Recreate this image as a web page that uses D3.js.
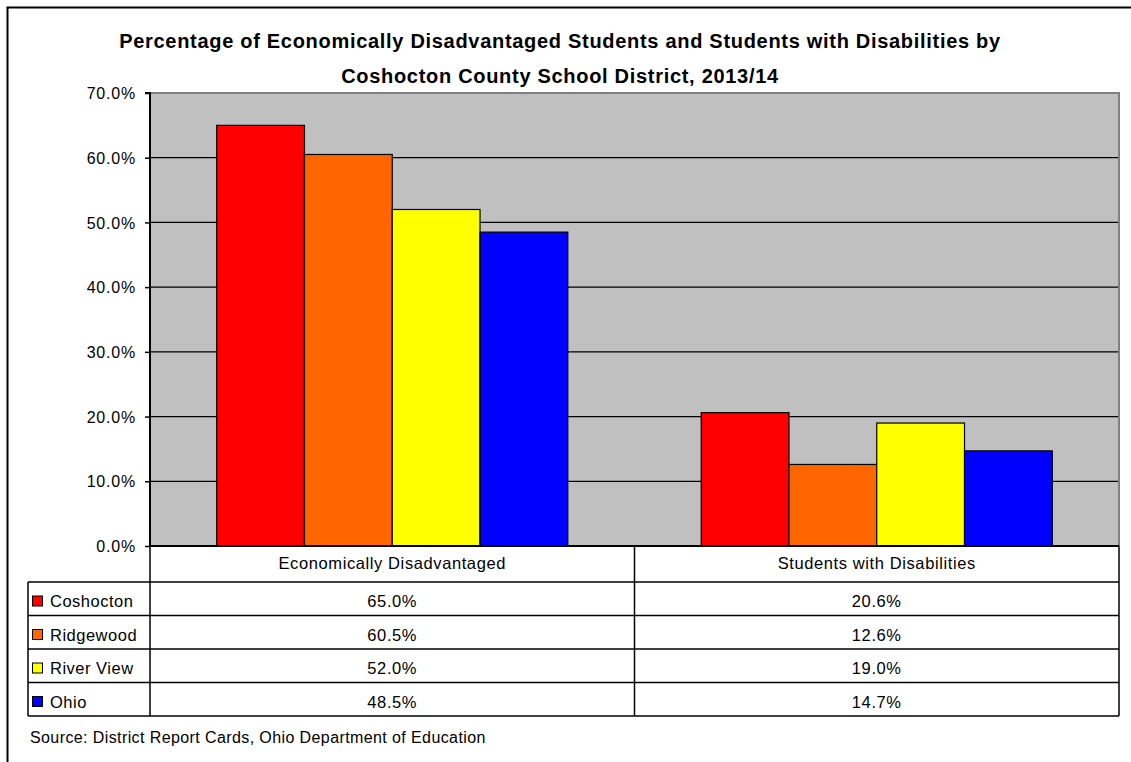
<!DOCTYPE html>
<html><head><meta charset="utf-8">
<script src="https://cdn.jsdelivr.net/npm/d3@7"></script>
<style>body{margin:0;background:#fff;} svg{display:block;font-family:Arial,"Liberation Sans",sans-serif;}</style>
</head><body>
<script>
const categories = ["Economically Disadvantaged", "Students with Disabilities"];
const seriesNames = ["Coshocton", "Ridgewood", "River View", "Ohio"];
const seriesColors = ["#FF0000", "#FF6600", "#FFFF00", "#0000FF"];
const values = {
  "Coshocton": [65.0, 20.6],
  "Ridgewood": [60.5, 12.6],
  "River View": [52.0, 19.0],
  "Ohio": [48.5, 14.7]
};
const yTicks = [0, 10, 20, 30, 40, 50, 60, 70];
const titleLines = ["Percentage of Economically Disadvantaged Students and Students with Disabilities by", "Coshocton County School District, 2013/14"];
const sourceText = "Source: District Report Cards, Ohio Department of Education";

const W = 1131, H = 762;
const FONT = "Arial, 'Liberation Sans', sans-serif";
const svg = d3.select("body").append("svg").attr("width", W).attr("height", H);

// outer border
svg.append("rect").attr("x", 7.5).attr("y", 7.5).attr("width", W + 20).attr("height", H + 20)
  .attr("fill", "#fff").attr("stroke", "#000").attr("stroke-width", 2);

// title
svg.append("text").attr("x", 560).attr("y", 48).attr("text-anchor", "middle")
  .attr("font-size", "20px").attr("font-weight", "bold").attr("letter-spacing", "0.7px").text(titleLines[0]);
svg.append("text").attr("x", 560).attr("y", 83).attr("text-anchor", "middle")
  .attr("font-size", "20px").attr("font-weight", "bold").attr("letter-spacing", "0.7px").text(titleLines[1]);

const pl = 150, pr = 1119, pt = 93, pb = 546;
const x0 = d3.scaleBand().domain(categories).range([pl, pr]).paddingInner(0).paddingOuter(0);
const x1 = d3.scaleBand().domain(seriesNames).range([0, x0.bandwidth()]).paddingInner(0).paddingOuter(0.76);
const y = d3.scaleLinear().domain([0, 70]).range([pb, pt]);

// plot bg
svg.append("rect").attr("x", pl).attr("y", pt).attr("width", pr - pl).attr("height", pb - pt)
  .attr("fill", "#C0C0C0");
// gridlines
svg.append("g").selectAll("line").data(yTicks.filter(t => t > 0 && t < 70)).join("line")
  .attr("x1", pl).attr("x2", pr).attr("y1", d => y(d)).attr("y2", d => y(d))
  .attr("stroke", "#000").attr("stroke-width", 1.2);
// top/right gray border
svg.append("path").attr("d", `M${pl},${pt}H${pr}V${pb}`).attr("fill", "none")
  .attr("stroke", "#808080").attr("stroke-width", 2);

// bars
categories.forEach((c, ci) => {
  svg.append("g").selectAll("rect").data(seriesNames).join("rect")
    .attr("x", s => x0(c) + x1(s))
    .attr("y", s => y(values[s][ci]))
    .attr("width", x1.bandwidth())
    .attr("height", s => y(0) - y(values[s][ci]))
    .attr("fill", (s, i) => seriesColors[i])
    .attr("stroke", "#000").attr("stroke-width", 1.2);
});

// y axis
const yAxis = d3.axisLeft(y).tickValues(yTicks).tickSize(5).tickFormat(d => d.toFixed(1) + "%");
const ga = svg.append("g").attr("transform", `translate(${pl},0)`).call(yAxis);
ga.attr("font-family", FONT).attr("font-size", null);
ga.select(".domain").attr("stroke", "#000").attr("stroke-width", 2).attr("d", `M-5,${pt}H0V${pb}`);
ga.selectAll(".tick line").attr("stroke", "#000").attr("stroke-width", 1.5);
ga.selectAll(".tick text").attr("font-size", "16px").attr("letter-spacing", "0.8px").attr("fill", "#000").attr("x", -14)
  .attr("dy", "0.35em");

// x baseline
svg.append("line").attr("x1", pl).attr("x2", pr).attr("y1", pb).attr("y2", pb)
  .attr("stroke", "#000").attr("stroke-width", 2);

// data table
const tblLeft = 28, headerBottom = 582, rowH = 33.5;
const tBottom = headerBottom + rowH * 4;
const tg = svg.append("g").attr("stroke", "#000").attr("stroke-width", 1.5);
tg.append("line").attr("x1", pr).attr("x2", pr).attr("y1", pb).attr("y2", tBottom);
tg.append("line").attr("x1", pl).attr("x2", pl).attr("y1", pb).attr("y2", tBottom);
tg.append("line").attr("x1", x0(categories[1])).attr("x2", x0(categories[1])).attr("y1", pb).attr("y2", tBottom);
tg.append("line").attr("x1", tblLeft).attr("x2", tblLeft).attr("y1", headerBottom).attr("y2", tBottom);
for (let i = 0; i <= 4; i++) {
  tg.append("line").attr("x1", tblLeft).attr("x2", pr)
    .attr("y1", headerBottom + rowH * i).attr("y2", headerBottom + rowH * i);
}
// header labels
svg.append("g").selectAll("text").data(categories).join("text")
  .attr("x", d => x0(d) + x0.bandwidth() / 2).attr("y", 569)
  .attr("text-anchor", "middle").attr("font-size", "16.5px").attr("letter-spacing", "0.6px").text(d => d);
// rows
seriesNames.forEach((s, i) => {
  const base = headerBottom + rowH * i + 25;
  svg.append("rect").attr("x", 32.5).attr("y", base - 11).attr("width", 10).attr("height", 10)
    .attr("fill", seriesColors[i]).attr("stroke", "#000").attr("stroke-width", 1);
  svg.append("text").attr("x", 50).attr("y", base).attr("font-size", "16.5px").attr("letter-spacing", "0.5px").text(s);
  categories.forEach((c, ci) => {
    svg.append("text").attr("x", x0(c) + x0.bandwidth() / 2).attr("y", base)
      .attr("text-anchor", "middle").attr("font-size", "16.5px").attr("letter-spacing", "0.6px")
      .text(values[s][ci].toFixed(1) + "%");
  });
});

svg.append("text").attr("x", 30).attr("y", 743).attr("font-size", "16px").attr("letter-spacing", "0.4px").text(sourceText);
</script>
</body></html>
